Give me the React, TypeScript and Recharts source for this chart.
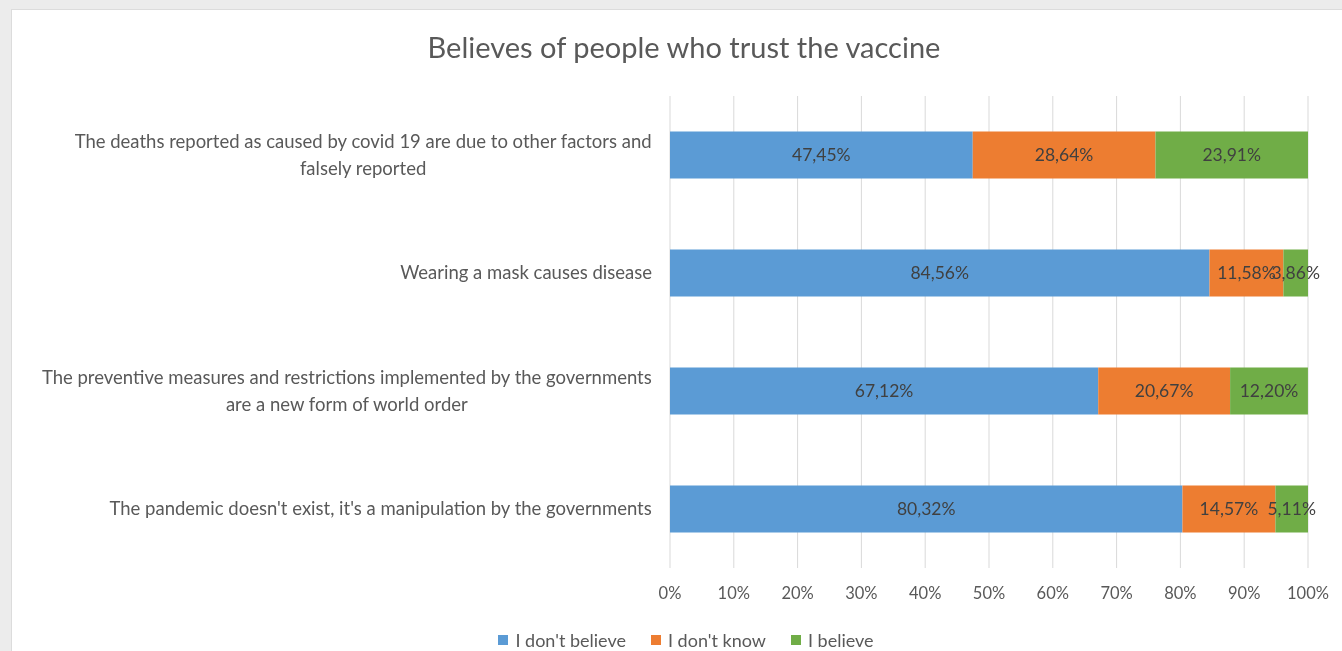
import React from 'react';
import { BarChart, Bar, XAxis, YAxis, CartesianGrid, Legend, LabelList } from 'recharts';

const categories = [
  'The deaths reported as caused by covid 19 are due to other factors and falsely reported',
  'Wearing a mask causes disease',
  'The preventive measures and restrictions implemented by the governments are a new form of world order',
  "The pandemic doesn't exist, it's a manipulation by the governments",
];
const dontBelieve = [47.45, 84.56, 67.12, 80.32];
const dontKnow = [28.64, 11.58, 20.67, 14.57];
const believe = [23.91, 3.86, 12.2, 5.11];
const xTicks = [0, 10, 20, 30, 40, 50, 60, 70, 80, 90, 100];

const series = [
  { key: 'dontBelieve', name: "I don't believe", color: '#5b9bd5' },
  { key: 'dontKnow', name: "I don't know", color: '#ed7d31' },
  { key: 'believe', name: 'I believe', color: '#70ad47' },
];

const FONT = 'Lato, "Liberation Sans", sans-serif';
const TEXT = '#595959';

const data = categories.map((name, i) => ({
  name,
  dontBelieve: dontBelieve[i],
  dontKnow: dontKnow[i],
  believe: believe[i],
}));

let ctx: CanvasRenderingContext2D | null = null;
const measure = (s: string, size: number) => {
  if (!ctx) ctx = document.createElement('canvas').getContext('2d');
  if (!ctx) return s.length * size * 0.5;
  ctx.font = `${size}px ${FONT}`;
  return ctx.measureText(s).width;
};

const wrap = (label: string, size: number, maxW: number) => {
  const words = label.split(' ');
  const lines: string[] = [];
  let cur = '';
  words.forEach(w => {
    const next = cur ? cur + ' ' + w : w;
    if (cur && measure(next, size) > maxW) {
      lines.push(cur);
      cur = w;
    } else cur = next;
  });
  if (cur) lines.push(cur);
  return lines;
};

// excel centres the wrapped lines under each other, block right-aligned to the axis
const CategoryTick = (props: any) => {
  const { x, y, payload } = props;
  const size = 18.5;
  const lines = wrap(payload.value, size, 620);
  const widest = Math.max(...lines.map(l => measure(l, size)));
  const cx = x - widest / 2;
  const lh = 27;
  const top = y - ((lines.length - 1) * lh) / 2;
  return (
    <g>
      {lines.map((l, i) => (
        <text key={i} x={cx} y={top + i * lh} dy="0.35em" textAnchor="middle"
          fill={TEXT} fontSize={size} fontFamily={FONT}>{l}</text>
      ))}
    </g>
  );
};

const LegendContent = () => (
  <div style={{
    display: 'flex', justifyContent: 'center', gap: 25, marginLeft: 52,
    fontFamily: FONT, fontSize: 18, color: TEXT, lineHeight: '22px',
  }}>
    {series.map(s => (
      <div key={s.key} style={{ display: 'flex', alignItems: 'center', gap: 7 }}>
        <span style={{ width: 10, height: 10, background: s.color, display: 'inline-block' }} />
        <span>{s.name}</span>
      </div>
    ))}
  </div>
);

const pct = (v: any) => `${Number(v).toFixed(2).replace('.', ',')}%`;

const App: React.FC = () => {
  return (
    <div style={{ position: 'fixed', inset: 0, background: '#ececec' }}>
      <div style={{
        position: 'absolute', left: 11, top: 9, width: 1344, height: 650,
        background: '#fff', border: '1px solid #dcdcdc', fontFamily: FONT,
      }}>
        <div style={{
          position: 'absolute', top: 19, left: 0, width: 1344, textAlign: 'center',
          fontSize: 29, color: TEXT, fontFamily: FONT, lineHeight: '36px',
        }}>
          Believes of people who trust the vaccine
        </div>
        <BarChart width={1344} height={641} data={data} layout="vertical"
          margin={{ top: 86, right: 48, bottom: 0, left: 0 }} barCategoryGap="30%">
          <CartesianGrid horizontal={false} stroke="#d9d9d9" />
          <XAxis type="number" domain={[0, 100]} ticks={xTicks} tickFormatter={v => `${v}%`}
            axisLine={false} tickLine={false} tickSize={0} tickMargin={19} height={61}
            tick={{ fill: TEXT, fontSize: 16.5, fontFamily: FONT }} interval={0} />
          <YAxis type="category" dataKey="name" width={658} axisLine={false} tickLine={false}
            tickSize={0} tickMargin={18} tick={<CategoryTick />} interval={0} />
          <Legend verticalAlign="bottom" align="center" content={<LegendContent />} />
          {series.map(s => (
            <Bar key={s.key} dataKey={s.key} name={s.name} stackId="a" fill={s.color} isAnimationActive={false}>
              <LabelList dataKey={s.key} position="center" formatter={pct}
                style={{ fill: '#404040', fontSize: 17.5, fontFamily: FONT }} />
            </Bar>
          ))}
        </BarChart>
      </div>
    </div>
  );
};

export default App;
